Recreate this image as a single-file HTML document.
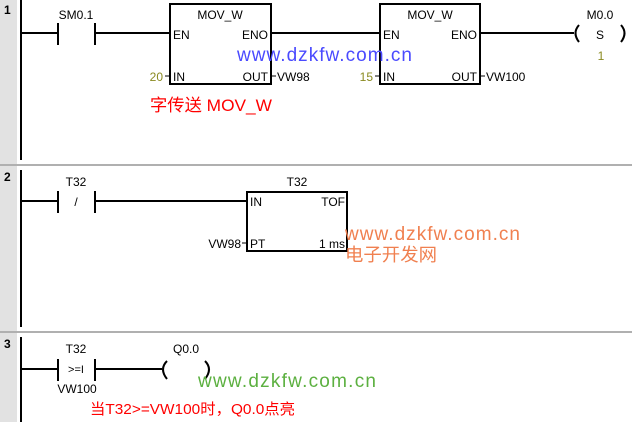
<!DOCTYPE html>
<html><head><meta charset="utf-8"><style>
body{margin:0;background:#fff;}
svg{display:block;}
text{font-family:"Liberation Sans","Noto Sans CJK SC",sans-serif;}
</style></head><body>
<svg width="632" height="422" viewBox="0 0 632 422">
<rect x="0" y="0" width="17" height="422" fill="#e2e2e2"/>
<line x1="0" y1="165" x2="632" y2="165" stroke="#b0b0b0" stroke-width="2"/>
<line x1="0" y1="332" x2="632" y2="332" stroke="#b0b0b0" stroke-width="2"/>
<g font-size="12" font-weight="bold" fill="#000">
<text x="4" y="14">1</text><text x="4" y="181">2</text><text x="4" y="348">3</text>
</g>
<g stroke="#000" stroke-width="2" fill="none">
<line x1="21" y1="0" x2="21" y2="160"/>
<line x1="21" y1="170" x2="21" y2="327"/>
<line x1="21" y1="337" x2="21" y2="422"/>
<line x1="21" y1="33" x2="58" y2="33"/><line x1="58" y1="23" x2="58" y2="45"/><line x1="95" y1="23" x2="95" y2="45"/>
<line x1="95" y1="33" x2="170" y2="33"/>
<rect x="170" y="4" width="101" height="80"/>
<line x1="271" y1="33" x2="380" y2="33"/>
<rect x="380" y="4" width="100" height="80"/>
<line x1="480" y1="33" x2="574" y2="33"/>
<path d="M579 25 Q572 33 579 42"/><path d="M621 25 Q628 33 621 42"/>
<line x1="21" y1="201" x2="58" y2="201"/><line x1="58" y1="191" x2="58" y2="213"/><line x1="95" y1="191" x2="95" y2="213"/>
<line x1="95" y1="201" x2="247" y2="201"/>
<rect x="247" y="192" width="100" height="59"/>
<line x1="21" y1="369" x2="58" y2="369"/><line x1="58" y1="359" x2="58" y2="381"/><line x1="95" y1="359" x2="95" y2="381"/>
<line x1="95" y1="369" x2="162" y2="369"/>
<path d="M167 361 Q159 369 167 379"/><path d="M205 361 Q213 369 205 379"/>
</g>
<g stroke="#000" stroke-width="1">
<line x1="165" y1="76" x2="170" y2="76"/><line x1="271" y1="76" x2="276" y2="76"/>
<line x1="375" y1="76" x2="380" y2="76"/><line x1="480" y1="76" x2="485" y2="76"/>
<line x1="242" y1="243" x2="247" y2="243"/>
</g>
<g font-size="12" fill="#000">
<text x="76" y="19" text-anchor="middle">SM0.1</text>
<text x="220" y="19" text-anchor="middle">MOV_W</text>
<text x="173" y="39">EN</text><text x="268" y="39" text-anchor="end">ENO</text>
<text x="173" y="81">IN</text><text x="268" y="81" text-anchor="end">OUT</text>
<text x="277" y="81">VW98</text>
<text x="430" y="19" text-anchor="middle">MOV_W</text>
<text x="383" y="39">EN</text><text x="477" y="39" text-anchor="end">ENO</text>
<text x="383" y="81">IN</text><text x="477" y="81" text-anchor="end">OUT</text>
<text x="486" y="81">VW100</text>
<text x="600" y="19" text-anchor="middle">M0.0</text>
<text x="600" y="39" text-anchor="middle">S</text>
<text x="76" y="186" text-anchor="middle">T32</text>
<text x="76" y="206" text-anchor="middle">/</text>
<text x="297" y="186" text-anchor="middle">T32</text>
<text x="250" y="206">IN</text><text x="345" y="206" text-anchor="end">TOF</text>
<text x="250" y="248">PT</text><text x="345" y="248" text-anchor="end">1 ms</text>
<text x="241" y="248" text-anchor="end">VW98</text>
<text x="76" y="353" text-anchor="middle">T32</text>
<text x="76" y="373" text-anchor="middle" font-size="11">&gt;=I</text>
<text x="77" y="393" text-anchor="middle">VW100</text>
<text x="186" y="353" text-anchor="middle">Q0.0</text>
</g>
<g font-size="12" fill="#8a8a20">
<text x="163" y="81" text-anchor="end">20</text>
<text x="373" y="81" text-anchor="end">15</text>
<text x="601" y="60" text-anchor="middle">1</text>
</g>
<text x="150" y="111" font-size="17" fill="#f00" textLength="122" lengthAdjust="spacingAndGlyphs">字传送 MOV_W</text>
<text x="237" y="61" font-size="19" fill="#4a4aff" textLength="175" lengthAdjust="spacing">www.dzkfw.com.cn</text>
<text x="345" y="240" font-size="19" fill="#f08050" textLength="175" lengthAdjust="spacing">www.dzkfw.com.cn</text>
<text x="345" y="261" font-size="18" fill="#f08050" textLength="92" lengthAdjust="spacingAndGlyphs">电子开发网</text>
<text x="198" y="387" font-size="19" fill="#5cb040" textLength="178" lengthAdjust="spacing">www.dzkfw.com.cn</text>
<text x="90" y="414" font-size="15" fill="#f00" textLength="205" lengthAdjust="spacingAndGlyphs">当T32&gt;=VW100时，Q0.0点亮</text>
</svg>
</body></html>
